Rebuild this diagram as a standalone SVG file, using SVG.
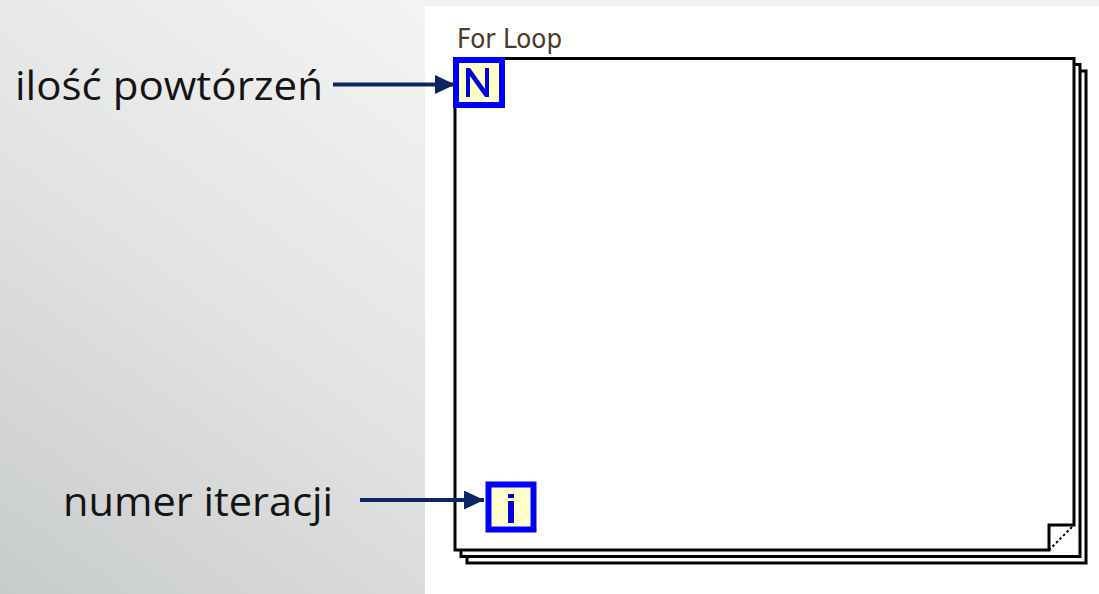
<svg xmlns="http://www.w3.org/2000/svg" width="1099" height="594" viewBox="0 0 1099 594">
  <defs>
    <linearGradient id="bg" gradientUnits="userSpaceOnUse" x1="430" y1="0" x2="0" y2="594">
      <stop offset="0" stop-color="#f4f4f4"/>
      <stop offset="0.5" stop-color="#e2e3e3"/>
      <stop offset="1" stop-color="#c8cbcc"/>
    </linearGradient>
    <marker id="arr" markerUnits="userSpaceOnUse" markerWidth="21" markerHeight="21" refX="20" refY="9.5" orient="auto">
      <path d="M0,0 L20,9.5 L0,19 Z" fill="#0d2563"/>
    </marker>
    <style>
      .lbl { font-family: "Open Sans", "Lato", sans-serif; font-size: 40px; fill: #141414; }
      .frame { fill: #ffffff; stroke: #000000; stroke-width: 3; }
      .conn { stroke: #0d2563; stroke-width: 4; fill: none; }
      .term { fill: #ffffcc; stroke: #0000ff; stroke-width: 6; }
      .glyph { fill: #0000e0; }
    </style>
  </defs>
  <rect x="0" y="0" width="1099" height="594" fill="url(#bg)"/>
  <rect x="425" y="0" width="674" height="6" fill="#f2f2f2"/>
  <rect x="425" y="6" width="674" height="588" fill="#ffffff"/>

  <g id="forloop">
    <text x="457" y="48" font-family="'DejaVu Sans Condensed', 'DejaVu Sans', sans-serif" font-size="27" fill="#4a3a28" textLength="105" lengthAdjust="spacingAndGlyphs">For Loop</text>
    <rect class="frame" x="467" y="71" width="619" height="492"/>
    <rect class="frame" x="461" y="64.5" width="619" height="492"/>
    <path class="frame" d="M455,58.5 L1074,58.5 L1074,525 L1049,525 L1049,550 L455,550 Z"/>
    <line x1="1049" y1="550" x2="1074" y2="525" stroke="#000" stroke-width="2" stroke-dasharray="2.5,2.5"/>
  </g>

  <g id="count-terminal">
    <rect class="term" x="456" y="60" width="46" height="45"/>
    <path class="glyph" d="M466,68 L470,68 L485,89 L485,68 L489,68 L489,97 L485,97 L470,76 L470,97 L466,97 Z"/>
  </g>

  <g id="iteration-terminal">
    <rect class="term" x="488.5" y="484.5" width="45" height="45"/>
    <rect class="glyph" x="508" y="494" width="6" height="4"/>
    <rect class="glyph" x="508" y="501" width="6" height="22"/>
  </g>

  <g id="label-count">
    <text class="lbl" x="15" y="100" textLength="308" lengthAdjust="spacingAndGlyphs">ilość powtórzeń</text>
  </g>
  <g id="label-iteration">
    <text class="lbl" x="63" y="516" textLength="270" lengthAdjust="spacingAndGlyphs">numer iteracji</text>
  </g>

  <g id="connectors">
    <line class="conn" x1="333" y1="84.5" x2="455" y2="84.5" marker-end="url(#arr)"/>
    <line class="conn" x1="360" y1="500" x2="484" y2="500" marker-end="url(#arr)"/>
  </g>
</svg>
